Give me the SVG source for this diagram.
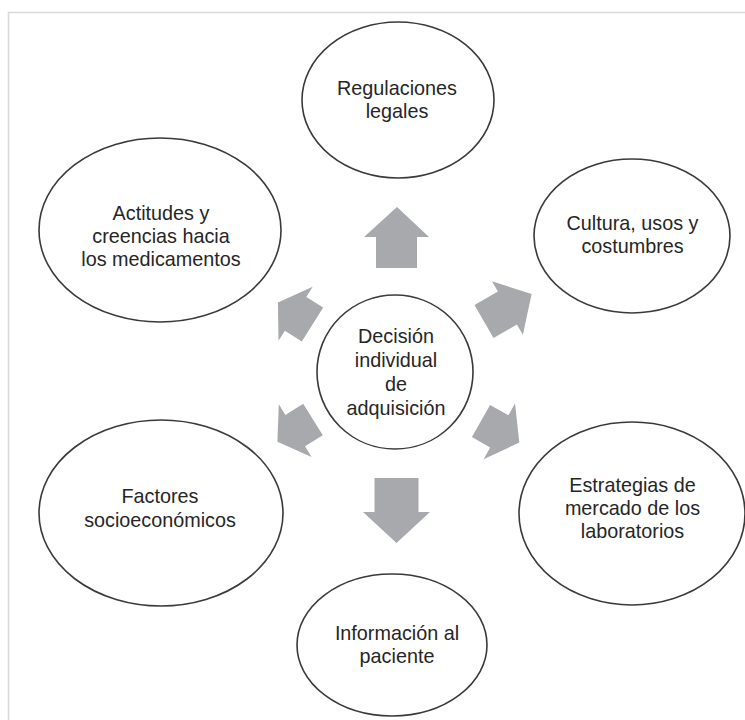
<svg xmlns="http://www.w3.org/2000/svg" width="745" height="720" viewBox="0 0 745 720">
<style>
.frame{fill:none;stroke:#d9d9d9;stroke-width:1.5}
.node ellipse{fill:#ffffff;stroke:#3a3a3a;stroke-width:1.6}
.node text{font-family:"Liberation Sans",Arial,sans-serif;font-size:19.8px;fill:#262626;text-anchor:middle}
.arrow{fill:#a7a9ad;stroke:none}
</style>
<rect width="745" height="720" fill="#ffffff"/>
<path class="frame" d="M8.5,720 L8.5,12.5 L745,12.5"/>
<g id="connectors">
<polygon class="arrow" points="376,268 376,237 364,237 397,207 429,237 417,237 417,268"/>
<polygon class="arrow" points="474.5,305 497.9,291.5 491.9,281.2 531.6,294 522.9,334.8 516.9,324.5 493.5,338"/>
<polygon class="arrow" points="490.1,404.9 508.4,415.2 515,403.4 519.3,442.6 483.6,459.2 490.2,447.4 471.9,437.1"/>
<polygon class="arrow" points="374.5,478 374.5,512 363,512 396.5,543 430,512 418.5,512 418.5,478"/>
<polygon class="arrow" points="303.2,403.8 285.4,414.9 278.8,404.3 277.4,441.7 311.6,456.9 305,446.3 322.8,435.2"/>
<polygon class="arrow" points="301.8,341.4 284.9,330.7 278.5,340.8 277.9,302.6 312.7,286.8 306.3,296.9 323.2,307.6"/>
</g>
<g id="node-regulaciones" class="node">
<ellipse cx="398" cy="100" rx="96" ry="78"/>
<text x="397" y="95">Regulaciones</text>
<text x="397" y="118">legales</text>
</g>
<g id="node-cultura" class="node">
<ellipse cx="632" cy="236" rx="98" ry="77"/>
<text x="632.5" y="230">Cultura, usos y</text>
<text x="632.5" y="253">costumbres</text>
</g>
<g id="node-actitudes" class="node">
<ellipse cx="160" cy="230" rx="121" ry="92"/>
<text x="161" y="220">Actitudes y</text>
<text x="161" y="243">creencias hacia</text>
<text x="161" y="266">los medicamentos</text>
</g>
<g id="node-decision" class="node">
<ellipse cx="395" cy="372" rx="78" ry="77"/>
<text x="396" y="343">Decisión</text>
<text x="396" y="367">individual</text>
<text x="396" y="391">de</text>
<text x="396" y="415">adquisición</text>
</g>
<g id="node-factores" class="node">
<ellipse cx="161" cy="513" rx="122" ry="93"/>
<text x="160" y="503">Factores</text>
<text x="160" y="527">socioeconómicos</text>
</g>
<g id="node-estrategias" class="node">
<ellipse cx="632" cy="513.5" rx="113" ry="91.5"/>
<text x="632.5" y="492">Estrategias de</text>
<text x="632.5" y="515">mercado de los</text>
<text x="632.5" y="538">laboratorios</text>
</g>
<g id="node-informacion" class="node">
<ellipse cx="392" cy="645" rx="95" ry="71"/>
<text x="397" y="640">Información al</text>
<text x="397" y="663">paciente</text>
</g>
</svg>
